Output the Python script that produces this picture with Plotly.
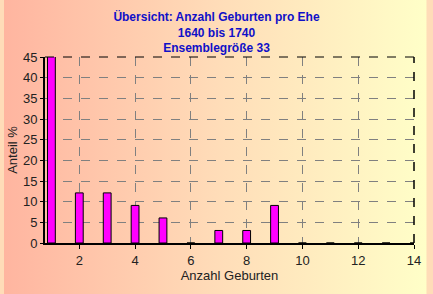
import plotly.graph_objects as go

births = list(range(1, 15))
share_pct = [45.45, 12.12, 12.12, 9.09, 6.06, 0, 3.03, 3.03, 9.09, 0, 0, 0, 0, 0]
x_ticks = [2, 4, 6, 8, 10, 12, 14]
y_ticks = [0, 5, 10, 15, 20, 25, 30, 35, 40, 45]

W, H = 433, 294
L, R, T, B = 42, 13, 57, 51
pw, ph = W - L - R, H - T - B

svg = ("data:image/svg+xml;utf8,<svg xmlns='http://www.w3.org/2000/svg' width='433' height='294'>"
       "<defs><linearGradient id='g' x1='0' y1='0' x2='1' y2='0'>"
       "<stop offset='0' stop-color='%23FFB5A0'/><stop offset='0.5' stop-color='%23FFDCB8'/>"
       "<stop offset='1' stop-color='%23FFFFC8'/></linearGradient></defs>"
       "<rect width='433' height='294' fill='url(%23g)'/></svg>")

fig = go.Figure()
fig.add_trace(go.Bar(x=births, y=share_pct, width=0.28,
                     marker=dict(color="#FF00FF", line=dict(color="black", width=1))))

fig.update_layout(
    width=W, height=H,
    margin=dict(l=L, r=R, t=T, b=B),
    paper_bgcolor="#FFDCB8", plot_bgcolor="rgba(0,0,0,0)",
    font=dict(family="Liberation Sans, Arial", size=13, color="#222"),
    title=dict(text="<b>Übersicht: Anzahl Geburten pro Ehe<br>1640 bis 1740<br>Ensemblegröße 33</b>",
               x=0.5, xanchor="center", xref="container", y=0.928, yanchor="top",
               font=dict(size=12, color="#1010C8")),
    showlegend=False,
    images=[dict(source=svg, xref="paper", yref="paper", x=-L / pw, y=1 + T / ph,
                 sizex=W / pw, sizey=H / ph, sizing="stretch", layer="below", xanchor="left", yanchor="top")],
    xaxis=dict(range=[0.77, 14], tickvals=x_ticks, ticks="outside", ticklen=4, tickcolor="black",
               showgrid=True, gridcolor="#808080", griddash="dash", gridwidth=1,
               showline=True, linecolor="black", linewidth=2, zeroline=False,
               title=dict(text="Anzahl Geburten", standoff=3, font=dict(size=13)),
               tickfont=dict(size=13)),
    yaxis=dict(range=[0, 45], tickvals=y_ticks, ticks="outside", ticklen=3, tickcolor="black",
               showgrid=True, gridcolor="#808080", griddash="dash", gridwidth=1,
               showline=True, linecolor="black", linewidth=2, zeroline=False,
               title=dict(text="Anteil %", standoff=2, font=dict(size=13)),
               tickfont=dict(size=13)),
    shapes=[
        dict(type="line", xref="paper", yref="paper", x0=0, x1=1, y0=1, y1=1,
             line=dict(color="black", width=1, dash="dash")),
        dict(type="line", xref="paper", yref="paper", x0=1, x1=1, y0=0, y1=1,
             line=dict(color="black", width=1.5, dash="dash")),
    ],
)
fig.write_html("out.html")
